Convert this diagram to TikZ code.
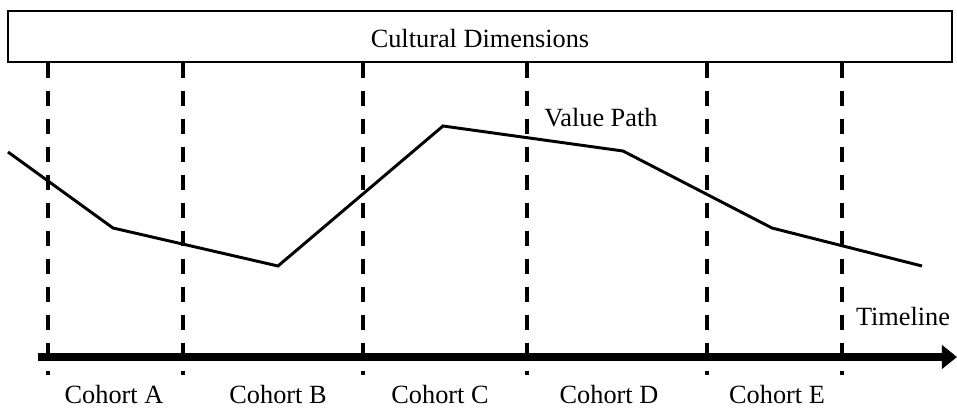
\documentclass[tikz,border=0pt]{standalone}
\usepackage{fontspec}
\setmainfont{Liberation Serif}
\usetikzlibrary{arrows.meta,positioning,calc}

\tikzset{
  lbl/.style={inner sep=0pt,anchor=base,font=\fontsize{18.7}{22}\selectfont},
  cohortline/.style={line width=2.8pt,dash pattern=on 10.7pt off 9.2pt},
  valueline/.style={line width=2.1pt,line join=miter},
}

\begin{document}
\begin{tikzpicture}[x=0.025cm,y=-0.025cm]
  \useasboundingbox (0,0) rectangle (957,408);
  \node[draw,line width=1.1pt,minimum width=944*0.025cm,minimum height=51*0.025cm,
        inner sep=0pt] (dims) at (480,36.5) {};
  \node[lbl] (dimstext) at (480,47) {Cultural Dimensions};
  \foreach \x [count=\i] in {48,183,363,527,707,842}
    \coordinate (c\i) at (\x,375);
  \foreach \i in {1,...,6}
    \draw[cohortline] (c\i |- dims.south) -- (c\i);
  \coordinate (tstart) at (38,357);
  \coordinate (tend) at (957,357);
  \draw[line width=5.7pt,-{Triangle[length=10.7pt,width=16.4pt]}] (tstart) -- (tend);
  \node[lbl] (timeline) at (903,325) {Timeline};
  \foreach \x/\name in {114/A,278/B,440/C,609/D,777/E}
    \node[lbl] (cohort\name) at (\x,403) {Cohort \name};
  % value path
  \coordinate (v1) at (8,152);
  \coordinate (v2) at (113,228);
  \coordinate (v3) at (278,266);
  \coordinate (v4) at (443,126);
  \coordinate (v5) at (623,151);
  \coordinate (v6) at (772,228);
  \coordinate (v7) at (922,266);
  \draw[valueline] (v1) -- (v2) -- (v3) -- (v4) -- (v5) -- (v6) -- (v7);
  \node[lbl,anchor=base west] (valuepath) at (544,126) {Value Path};
\end{tikzpicture}
\end{document}
